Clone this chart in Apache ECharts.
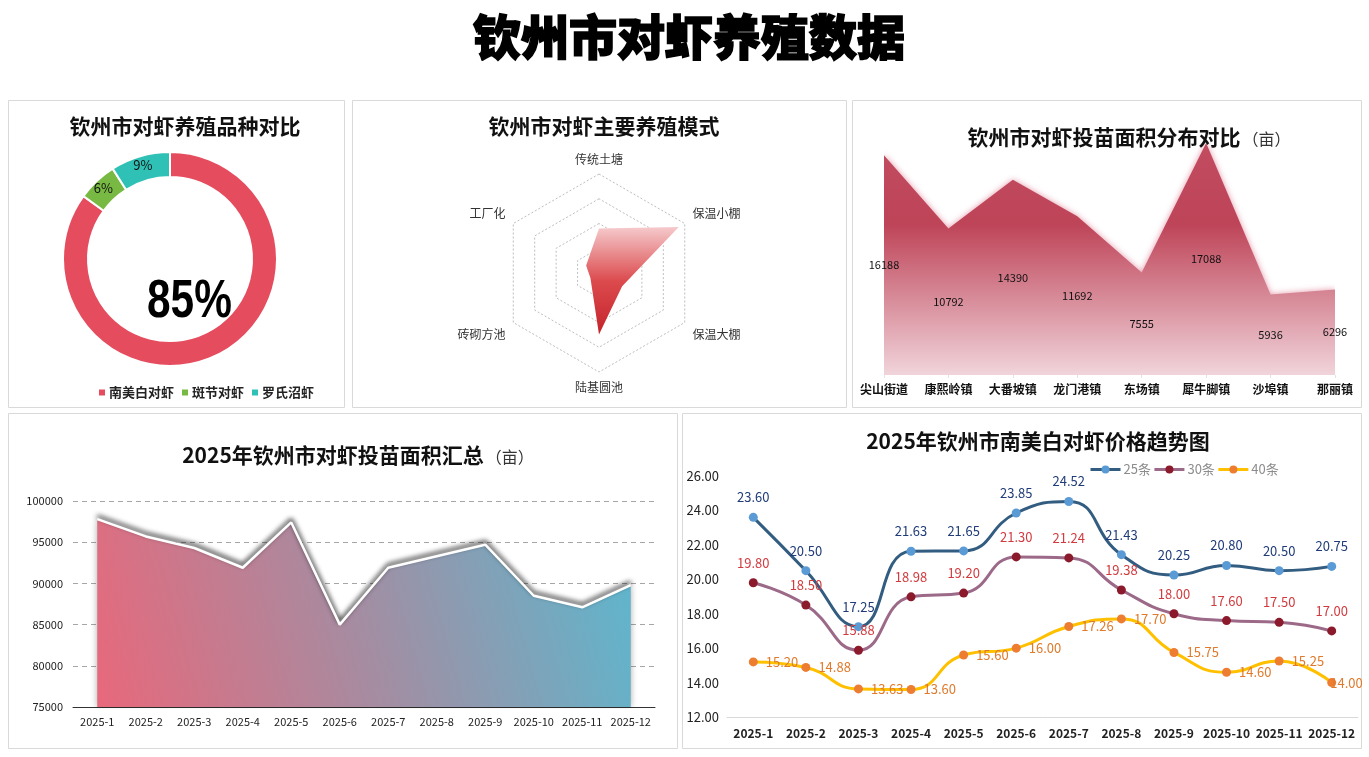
<!DOCTYPE html>
<html>
<head>
<meta charset="utf-8">
<title>钦州市对虾养殖数据</title>
<script src="https://cdn.jsdelivr.net/npm/echarts@6/dist/echarts.min.js"></script>
<style>
    html, body { margin: 0; padding: 0; background: #fff; }
    #main { width: 1369px; height: 757px; }
</style>
</head>
<body>
<div id="main"></div>
<script>
// 品种对比
var breedNames = ['南美白对虾', '斑节对虾', '罗氏沼虾'];
var breedValues = [85, 6, 9];
var breedColors = ['#E54D5F', '#78B943', '#2FC1B6'];

// 养殖模式（雷达图，逆时针顺序）
var modeNames = ['传统土塘', '工厂化', '砖砌方池', '陆基圆池', '保温大棚', '保温小棚'];
var modeValues = [45, 15, 10, 62, 27, 93];

// 各镇投苗面积
var towns = ['尖山街道', '康熙岭镇', '大番坡镇', '龙门港镇', '东场镇', '犀牛脚镇', '沙埠镇', '那丽镇'];
var townArea = [16188, 10792, 14390, 11692, 7555, 17088, 5936, 6296];

// 月份
var months = ['2025-1', '2025-2', '2025-3', '2025-4', '2025-5', '2025-6',
    '2025-7', '2025-8', '2025-9', '2025-10', '2025-11', '2025-12'];
var monthArea = [97800, 95700, 94300, 91900, 97400, 85000, 91900, 93300, 94700, 88500, 87100, 89800];

// 价格趋势
var price25 = [23.60, 20.50, 17.25, 21.63, 21.65, 23.85, 24.52, 21.43, 20.25, 20.80, 20.50, 20.75];
var price30 = [19.80, 18.50, 15.88, 18.98, 19.20, 21.30, 21.24, 19.38, 18.00, 17.60, 17.50, 17.00];
var price40 = [15.20, 14.88, 13.63, 13.60, 15.60, 16.00, 17.26, 17.70, 15.75, 14.60, 15.25, 14.00];

var FONT = '"Noto Sans CJK SC", "Microsoft YaHei", sans-serif';

var chart = echarts.init(document.getElementById('main'));

var breedTotal = breedValues.reduce(function (a, b) { return a + b; }, 0);
var bigPct = Math.round(breedValues[0] / breedTotal * 100) + '%';

function panel(x, y, w, h) {
    return {
        type: 'rect', silent: true, z: -10,
        shape: { x: x + 0.5, y: y + 0.5, width: w, height: h },
        style: { fill: '#fff', stroke: '#D9D9D9', lineWidth: 1 }
    };
}

var titleRich = {
    a: { fontSize: 21, fontWeight: 'bold', color: '#111', fontFamily: FONT },
    b: { fontSize: 16, fontWeight: 'normal', color: '#333', fontFamily: FONT, padding: [3, 0, 0, 2] }
};

function priceLabel(color, pos, dist) {
    return {
        show: true, position: pos, distance: dist, fontSize: 13, color: color,
        formatter: function (p) { return p.value.toFixed(2); }
    };
}

// 最后一个40条标签挤在边框内
var price40Data = price40.map(function (v, i) {
    if (i === price40.length - 1) {
        return { value: v, label: { position: 'right', offset: [-14, 0] } };
    }
    return v;
});

var option = {
    backgroundColor: '#fff',
    textStyle: { fontFamily: FONT },
    graphic: [
        panel(8, 100, 336, 307),
        panel(352, 100, 494, 307),
        panel(852, 100, 509, 307),
        panel(8, 413, 669, 335),
        panel(682, 413, 679, 335),
        {
            type: 'text', z: 10, silent: true,
            x: 147, y: 276, scaleX: 0.8,
            style: {
                text: bigPct,
                font: 'bold 53px "Liberation Sans", Arial, sans-serif',
                fill: '#000'
            }
        }
    ],
    title: [
        {
            text: '钦州市对虾养殖数据', left: 684, top: 8, textAlign: 'center',
            textStyle: {
                fontSize: 48, fontWeight: 900, color: '#000', fontFamily: FONT,
                textBorderColor: '#000', textBorderWidth: 1.6
            }
        },
        {
            text: '钦州市对虾养殖品种对比', left: 180, top: 111, textAlign: 'center',
            textStyle: { fontSize: 21, fontWeight: 'bold', color: '#111', fontFamily: FONT }
        },
        {
            text: '钦州市对虾主要养殖模式', left: 599, top: 111, textAlign: 'center',
            textStyle: { fontSize: 21, fontWeight: 'bold', color: '#111', fontFamily: FONT }
        },
        {
            text: '{a|钦州市对虾投苗面积分布对比}{b|（亩）}', left: 1124, top: 122, textAlign: 'center',
            textStyle: { rich: titleRich }
        },
        {
            text: '{a|2025年钦州市对虾投苗面积汇总}{b|（亩）}', left: 353, top: 440, textAlign: 'center',
            textStyle: { rich: titleRich }
        },
        {
            text: '2025年钦州市南美白对虾价格趋势图', left: 1033, top: 426, textAlign: 'center',
            textStyle: { fontSize: 21, fontWeight: 'bold', color: '#111', fontFamily: FONT }
        }
    ],
    legend: [
        {
            data: breedNames, left: 92, top: 381, icon: 'rect',
            itemWidth: 8, itemHeight: 8, itemGap: 6, selectedMode: false,
            textStyle: { fontSize: 13, fontWeight: 'bold', color: '#222', fontFamily: FONT, padding: [0, 0, 0, -2] }
        },
        {
            data: ['25条', '30条', '40条'], left: 1084, top: 458,
            itemWidth: 30, itemHeight: 10, itemGap: 2, selectedMode: false,
            lineStyle: { width: 3 },
            textStyle: { fontSize: 13, color: '#8C8C8C', fontFamily: FONT, padding: [0, 0, 0, -2] }
        }
    ],
    radar: {
        center: [599, 273],
        radius: 99,
        splitNumber: 4,
        shape: 'polygon',
        indicator: modeNames.map(function (n) { return { name: n, max: 100 }; }),
        axisName: {
            color: '#333', fontSize: 12, fontFamily: FONT,
            formatter: function (name) {
                var i = modeNames.indexOf(name);
                if (i === 1 || i === 5) return '{up|' + name + '}';
                if (i === 2 || i === 4) return '{dn|' + name + '}';
                return name;
            },
            rich: {
                up: { color: '#333', fontSize: 12, fontFamily: FONT, padding: [0, 0, 12, 0] },
                dn: { color: '#333', fontSize: 12, fontFamily: FONT, padding: [14, 0, 0, 0] }
            }
        },
        nameGap: 9,
        axisLine: { show: false },
        axisTick: { show: false },
        splitArea: { show: false },
        splitLine: { lineStyle: { color: '#BDBDBD', type: [2, 2], width: 1 } }
    },
    grid: [
        { left: 884, right: 34, top: 143, bottom: 382, containLabel: false },
        { left: 73, right: 714, top: 501, bottom: 50, containLabel: false },
        { left: 727, right: 11, top: 476, bottom: 40, containLabel: false }
    ],
    xAxis: [
        {
            gridIndex: 0, type: 'category', data: towns, boundaryGap: false,
            axisLine: { show: false },
            axisTick: { show: true, length: 3, lineStyle: { color: '#E3E3E3' } },
            axisLabel: { fontSize: 12, fontWeight: 'bold', color: '#111', margin: 8, interval: 0 }
        },
        {
            gridIndex: 1, type: 'category', data: months, boundaryGap: true,
            axisLine: { lineStyle: { color: '#333', width: 1 } },
            axisTick: { show: false },
            axisLabel: { fontSize: 11, color: '#222', margin: 9, interval: 0 }
        },
        {
            gridIndex: 2, type: 'category', data: months, boundaryGap: true,
            axisLine: { lineStyle: { color: '#D9D9D9', width: 1 } },
            axisTick: { show: false },
            axisLabel: { fontSize: 12, fontWeight: 'bold', color: '#222', margin: 10, interval: 0 }
        }
    ],
    yAxis: [
        {
            gridIndex: 0, type: 'value', min: 0, max: 'dataMax', show: false
        },
        {
            gridIndex: 1, type: 'value', min: 75000, max: 100000, interval: 5000,
            axisLine: { show: false }, axisTick: { show: false },
            axisLabel: {
                fontSize: 11, color: '#222', margin: 10,
                formatter: function (v) { return String(v); }
            },
            splitLine: { lineStyle: { color: '#A6A6A6', type: [5, 4] } }
        },
        {
            gridIndex: 2, type: 'value', min: 12, max: 26, interval: 2,
            axisLine: { show: false }, axisTick: { show: false },
            axisLabel: {
                fontSize: 13, color: '#222', margin: 8,
                formatter: function (v) { return v.toFixed(2); }
            },
            splitLine: { show: false }
        }
    ],
    series: [
        {
            type: 'pie',
            center: [170, 259],
            radius: [82, 107],
            startAngle: 90,
            silent: true,
            itemStyle: { borderColor: '#fff', borderWidth: 2 },
            label: {
                show: true, position: 'inside', formatter: '{d}%',
                color: '#111', fontSize: 13, fontFamily: FONT
            },
            labelLine: { show: false },
            data: breedNames.map(function (n, i) {
                var d = { name: n, value: breedValues[i], itemStyle: { color: breedColors[i] } };
                if (i === 0) d.label = { show: false };
                return d;
            })
        },
        {
            type: 'radar',
            silent: true,
            symbol: 'none',
            lineStyle: { width: 0 },
            areaStyle: {
                opacity: 1,
                color: new echarts.graphic.LinearGradient(0, 0, 0, 1, [
                    { offset: 0, color: '#F5CACC' },
                    { offset: 0.5, color: '#DC4B4E' },
                    { offset: 1, color: '#C4232A' }
                ])
            },
            data: [{ value: modeValues, name: '养殖模式' }]
        },
        {
            type: 'line',
            xAxisIndex: 0, yAxisIndex: 0,
            data: townArea,
            symbol: 'none',
            silent: true,
            z: 2,
            lineStyle: { width: 0 },
            areaStyle: {
                opacity: 1,
                color: new echarts.graphic.LinearGradient(0, 0, 0, 1, [
                    { offset: 0, color: '#C24C60' },
                    { offset: 0.35, color: '#BE4458' },
                    { offset: 1, color: '#F1D4DB' }
                ]),
                shadowColor: 'rgba(225,140,160,0.9)',
                shadowBlur: 6
            }
        },
        {
            // 透明柱子，仅用来把数值标签放在面积高度的一半处
            type: 'bar',
            xAxisIndex: 0, yAxisIndex: 0,
            data: townArea,
            barWidth: 30,
            silent: true,
            clip: false,
            z: 10,
            itemStyle: { color: 'rgba(0,0,0,0)' },
            label: { show: true, position: 'inside', color: '#111', fontSize: 11 }
        },
        {
            type: 'line',
            xAxisIndex: 1, yAxisIndex: 1,
            data: monthArea,
            symbol: 'none',
            silent: true,
            lineStyle: {
                color: '#fff', width: 2.5,
                shadowColor: 'rgba(0,0,0,0.9)', shadowBlur: 5, shadowOffsetY: -3
            },
            areaStyle: {
                opacity: 1,
                color: new echarts.graphic.LinearGradient(0, 1, 1, 0.2, [
                    { offset: 0, color: '#E8687B' },
                    { offset: 0.5, color: '#A48DA2' },
                    { offset: 1, color: '#5EB6CD' }
                ]),
                shadowColor: 'rgba(0,0,0,0.35)',
                shadowBlur: 6
            }
        },
        {
            name: '25条', type: 'line', xAxisIndex: 2, yAxisIndex: 2,
            data: price25, smooth: true, symbol: 'circle', symbolSize: 9,
            lineStyle: { color: '#335D80', width: 3 },
            itemStyle: { color: '#5B9BD5' },
            label: priceLabel('#1F3B78', 'top', 9)
        },
        {
            name: '30条', type: 'line', xAxisIndex: 2, yAxisIndex: 2,
            data: price30, smooth: true, symbol: 'circle', symbolSize: 9,
            lineStyle: { color: '#9C6A88', width: 3 },
            itemStyle: { color: '#8B1A2C' },
            label: priceLabel('#D23A3E', 'top', 9)
        },
        {
            name: '40条', type: 'line', xAxisIndex: 2, yAxisIndex: 2,
            data: price40Data, smooth: true, symbol: 'circle', symbolSize: 9,
            lineStyle: { color: '#FFC000', width: 3 },
            itemStyle: { color: '#ED7D31' },
            label: priceLabel('#E07A2C', 'right', 8)
        }
    ]
};

chart.setOption(option);
</script>
</body>
</html>
